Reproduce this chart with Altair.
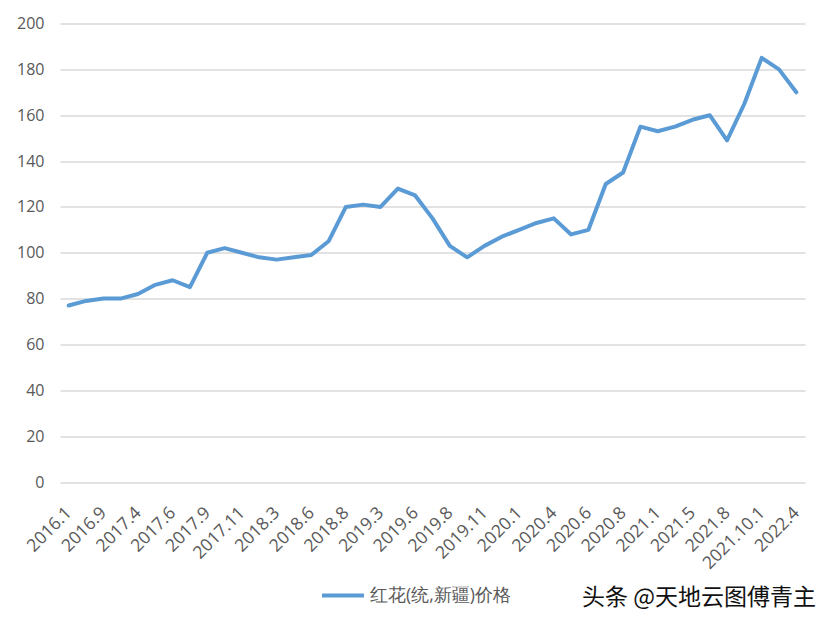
import altair as alt
import pandas as pd

# every other category label shown on the axis (43 points in total)
tick_labels = ["2016.1", "2016.9", "2017.4", "2017.6", "2017.9", "2017.11", "2018.3",
               "2018.6", "2018.8", "2019.3", "2019.6", "2019.8", "2019.11", "2020.1",
               "2020.4", "2020.6", "2020.8", "2021.1", "2021.5", "2021.8", "2021.10.1",
               "2022.4"]
prices = [77, 79, 80, 80, 82, 86, 88, 85, 100, 102, 100, 98, 97, 98, 99, 105,
          120, 121, 120, 128, 125, 115, 103, 98, 103, 107, 110, 113, 115, 108, 110,
          130, 135, 155, 153, 155, 158, 160, 149, 165, 185, 180, 170]
series_name = "红花(统,新疆)价格"
watermark = "头条 @天地云图傅青主"

df = pd.DataFrame({"idx": list(range(len(prices))), "price": prices,
                   "series": [series_name] * len(prices)})

label_arr = "[" + ",".join("'" + s + "'" for s in tick_labels) + "]"
FONT = "Open Sans"

line = alt.Chart(df).mark_line(strokeWidth=4, strokeCap="round", strokeJoin="round").encode(
    x=alt.X("idx:Q", scale=alt.Scale(domain=[-0.5, len(prices) - 0.5], nice=False, zero=False),
            axis=alt.Axis(title=None, values=list(range(0, len(prices), 2)),
                          labelExpr=label_arr + "[round(datum.value/2)]",
                          labelAngle=-45, labelAlign="right", labelBaseline="middle",
                          labelFontSize=17.5, labelColor="#595959", labelFont=FONT,
                          grid=False, domain=False, ticks=False, labelPadding=8,
                          offset=20,
                          labelOverlap=False, labelBound=False, labelFlush=False)),
    y=alt.Y("price:Q", scale=alt.Scale(domain=[0, 200], nice=False),
            axis=alt.Axis(title=None, values=list(range(0, 201, 20)), labelFontSize=16,
                          labelColor="#595959", labelFont=FONT, labelPadding=16,
                          grid=True, gridColor="#d9d9d9", gridWidth=1.3,
                          domain=False, ticks=False)),
    color=alt.Color("series:N", scale=alt.Scale(range=["#5b9bd5"]),
                    legend=alt.Legend(title=None, orient="none", legendX=260, legendY=549,
                                      symbolType="stroke", symbolSize=1764,
                                      symbolStrokeWidth=4, labelFontSize=17.5,
                                      labelColor="#595959", labelFont=FONT,
                                      labelOffset=4)),
)

wm = alt.Chart(pd.DataFrame({"t": [watermark]})).mark_text(
    align="left", baseline="middle", fontSize=23, font="Noto Sans CJK SC",
    color="#111111").encode(
    text="t:N", x=alt.value(522), y=alt.value(574.5))

chart = alt.layer(line, wm).properties(
    width=745, height=458.5,
    autosize=alt.AutoSizeParams(type="none"),
    padding={"left": 52, "top": 15.5, "right": 22, "bottom": 137},
).configure(background="white").configure_view(stroke=None)

chart.save("out.html", embed_options={"renderer": "svg", "actions": False})
